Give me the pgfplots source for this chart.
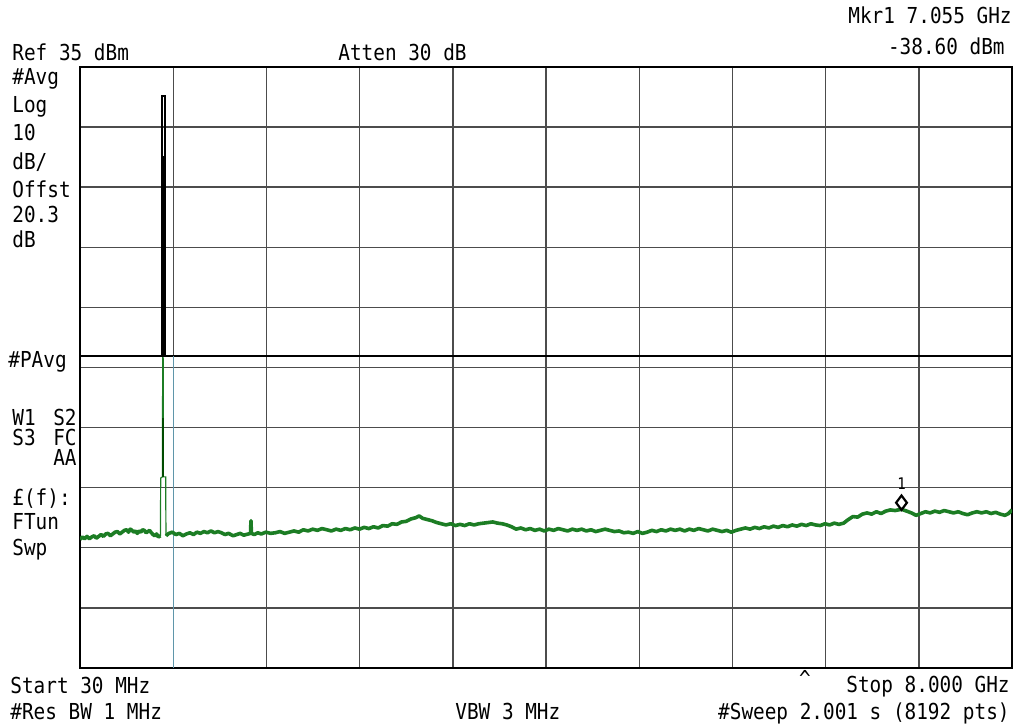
\documentclass[border=0pt]{standalone}
\usepackage{fontspec}
\usepackage{pgfplots}
\pgfplotsset{compat=1.18}
\newfontfamily\safont[FakeStretch=0.88]{DejaVu Sans Mono}
\newcommand{\sa}{\safont\fontsize{11pt}{13pt}\selectfont}
\definecolor{trace}{RGB}{28,125,36}
\definecolor{gridblue}{RGB}{95,150,170}
\begin{document}
\begin{tikzpicture}
\useasboundingbox (0,0) rectangle (509.5pt,364pt);
\begin{axis}[
  at={(40pt,30pt)}, anchor=south west, scale only axis,
  width=466pt, height=300.5pt,
  xmin=30, xmax=8000, ymin=-65, ymax=35,
  xtick={30,827,1624,2421,3218,4015,4812,5609,6406,7203,8000},
  ytick={-65,-55,-45,-35,-25,-15,-5,5,15,25,35},
  xticklabels={}, yticklabels={}, major tick length=0pt,
  grid=major, major grid style={black!70, line width=0.7pt},
  axis line style={black, line width=0.9pt},
]
% display line
\addplot[black, line width=1.2pt] coordinates {(30,-13.1) (8000,-13.1)};
\addplot[gridblue, line width=0.7pt] coordinates {(827,-13.1) (827,-65)};
% trace part 1
\addplot[trace, line width=1.8pt, line join=round] coordinates {
(30,-43.6) (50,-43.2) (70,-43.5) (90,-43.1) (110,-43.5) (130,-43.2) (150,-43.0) (170,-43.4) (190,-43.1) (210,-42.8) (230,-43.1) (250,-42.7) (270,-42.6)
(290,-43.0) (310,-42.7) (330,-42.4) (350,-42.3) (370,-42.7) (390,-42.4) (410,-42.1) (430,-42.0) (445,-42.4) (460,-41.9) (475,-42.1) (490,-42.4) (505,-42.2) (520,-42.6)
(535,-42.2) (550,-42.4) (565,-42.0) (580,-42.1) (595,-42.5) (610,-42.3) (625,-42.1) (640,-42.5) (655,-42.8) (670,-43.0) (685,-42.7) (700,-43.2) (718,-43.0)
};
% pulse / spike (thin)
\addplot[trace, line width=0.6pt] coordinates {
(718,-43.0) (720,-33.4) (735,-33.2) (737,-13.1) (741,-13.1) (743,-33.2) (763,-33.2) (765,-43.0)
};
\addplot[green!30!black, line width=1.2pt] coordinates {(740,-23.4) (740,-33.2)};
% trace part 2
\addplot[trace, line width=1.8pt, line join=round] coordinates {
(765,-43.0) (790,-42.6) (820,-42.4) (850,-42.8) (880,-42.6) (910,-43.0) (940,-42.7)
(970,-42.5) (1000,-42.8) (1030,-42.4) (1060,-42.6) (1090,-42.3) (1120,-42.5) (1150,-42.2)
(1180,-42.5) (1210,-42.3) (1240,-42.5) (1270,-42.8) (1300,-42.6) (1340,-43.0) (1370,-42.8)
(1400,-42.6) (1430,-42.9) (1470,-42.7) (1488,-42.6) (1492,-40.5) (1496,-42.6) (1520,-42.8)
(1550,-42.5) (1580,-42.7) (1620,-42.4) (1660,-42.6) (1700,-42.5) (1740,-42.3) (1780,-42.6)
(1820,-42.4) (1860,-42.2) (1900,-42.4) (1940,-42.0) (1980,-42.2) (2020,-41.9) (2060,-42.1)
(2100,-41.8) (2140,-42.0) (2180,-42.2) (2220,-41.9) (2260,-42.1) (2300,-41.8) (2340,-42.0)
(2380,-41.7) (2420,-41.9) (2460,-41.6) (2500,-41.8) (2540,-41.5) (2580,-41.7) (2620,-41.3)
(2660,-41.4) (2700,-41.0) (2740,-41.1) (2780,-40.7) (2820,-40.6) (2860,-40.2) (2900,-40.0)
(2930,-39.7) (2960,-40.1) (3000,-40.3) (3040,-40.5) (3080,-40.8) (3120,-41.0) (3160,-41.2)
(3200,-41.0) (3240,-41.3) (3280,-41.1) (3320,-41.3) (3360,-41.0) (3400,-41.2) (3440,-41.0)
(3480,-40.9) (3520,-40.8) (3560,-40.7) (3600,-40.9) (3640,-41.0) (3680,-41.2) (3720,-41.5)
(3760,-41.9) (3800,-41.7) (3840,-42.0) (3880,-41.8) (3920,-42.1) (3960,-41.9) (4000,-42.2)
(4040,-41.9) (4080,-42.1) (4120,-41.8) (4160,-42.0) (4200,-42.2) (4240,-41.9) (4280,-42.1)
(4320,-41.9) (4360,-42.2) (4400,-42.0) (4440,-42.3) (4480,-42.1) (4520,-41.9) (4560,-42.1)
(4600,-42.3) (4640,-42.2) (4680,-42.5) (4720,-42.4) (4760,-42.6) (4800,-42.3) (4840,-42.6)
(4880,-42.4) (4920,-42.1) (4960,-42.3) (5000,-42.0) (5040,-42.2) (5080,-41.9) (5120,-42.1)
(5160,-41.9) (5200,-42.2) (5240,-41.9) (5280,-42.1) (5320,-41.8) (5360,-42.0) (5400,-42.2)
(5440,-41.9) (5480,-42.1) (5520,-42.3) (5560,-42.1) (5600,-42.4) (5640,-42.1) (5680,-41.9)
(5720,-41.7) (5760,-41.9) (5800,-41.6) (5840,-41.8) (5880,-41.5) (5920,-41.7) (5960,-41.4)
(6000,-41.6) (6040,-41.3) (6080,-41.5) (6120,-41.2) (6160,-41.4) (6200,-41.1) (6240,-41.3)
(6280,-41.0) (6320,-41.2) (6360,-41.3) (6400,-41.0) (6440,-41.2) (6480,-40.9) (6520,-41.1)
(6560,-40.9) (6600,-40.3) (6640,-39.8) (6680,-39.9) (6720,-39.4) (6760,-39.2) (6800,-39.4)
(6840,-39.0) (6880,-39.3) (6920,-38.9) (6960,-38.7) (7000,-38.8) (7055,-38.6) (7100,-38.9)
(7140,-39.2) (7180,-39.6) (7220,-39.3) (7260,-39.0) (7300,-39.2) (7340,-38.9) (7380,-39.1)
(7420,-38.8) (7460,-39.0) (7500,-39.2) (7540,-39.0) (7580,-39.3) (7620,-39.5) (7660,-39.2)
(7700,-39.0) (7740,-39.2) (7780,-39.0) (7820,-39.3) (7860,-39.1) (7900,-39.4) (7940,-39.6)
(7970,-39.3) (8000,-38.7)
};
% black peak (max trace)
\addplot[draw=black, line width=1pt] coordinates {(727,20) (727,30.2) (757,30.2) (757,20)};
\addplot[draw=black, fill=black, line width=1pt] coordinates {(727,-13.1) (727,20) (757,20) (757,-13.1)} -- cycle;
% marker
\addplot[only marks, mark=diamond, mark size=3.6pt, mark options={draw=black, fill=white, line width=1.1pt}] coordinates {(7055,-37.5)};
\node[font=\safont\fontsize{8pt}{9pt}\selectfont, inner sep=0pt] at (axis cs:7055,-34.4) {1};
\end{axis}
% annotation texts
\begin{scope}[every node/.style={inner sep=0pt, font=\sa}]
\node[anchor=base west] at (6pt,333.5pt) {Ref 35 dBm};
\node[anchor=base west] at (169pt,333.5pt) {Atten 30 dB};
\node[anchor=base east] at (506pt,352pt) {Mkr1  7.055 GHz};
\node[anchor=base east] at (502.5pt,336.5pt) {-38.60 dBm};
\node[anchor=base west] at (6pt,321.5pt) {\#Avg};
\node[anchor=base west] at (6pt,307.5pt) {Log};
\node[anchor=base west] at (6pt,293.5pt) {10};
\node[anchor=base west] at (6pt,279pt) {dB/};
\node[anchor=base west] at (6pt,265pt) {Offst};
\node[anchor=base west] at (6pt,252.5pt) {20.3};
\node[anchor=base west] at (6pt,240pt) {dB};
\node[anchor=base west] at (4pt,180pt) {\#PAvg};
\node[anchor=base west] at (6pt,151pt) {W1};
\node[anchor=base east] at (38.5pt,151pt) {S2};
\node[anchor=base west] at (6pt,141pt) {S3};
\node[anchor=base east] at (38.5pt,141pt) {FC};
\node[anchor=base east] at (38.5pt,131pt) {AA};
\node[anchor=base west] at (6pt,111pt) {£(f):};
\node[anchor=base west] at (6pt,99pt) {FTun};
\node[anchor=base west] at (6pt,86pt) {Swp};
\node[anchor=base west] at (5pt,17pt) {Start 30 MHz};
\node[anchor=base east] at (505pt,17.5pt) {Stop 8.000 GHz};
\node[anchor=north] at (402.5pt,29pt) {\^{}};
\node[anchor=base west] at (5pt,4pt) {\#Res BW 1 MHz};
\node[anchor=base west] at (227.5pt,4pt) {VBW 3 MHz};
\node[anchor=base east] at (505pt,4pt) {\#Sweep 2.001 s (8192 pts)};
\end{scope}
\end{tikzpicture}
\end{document}
